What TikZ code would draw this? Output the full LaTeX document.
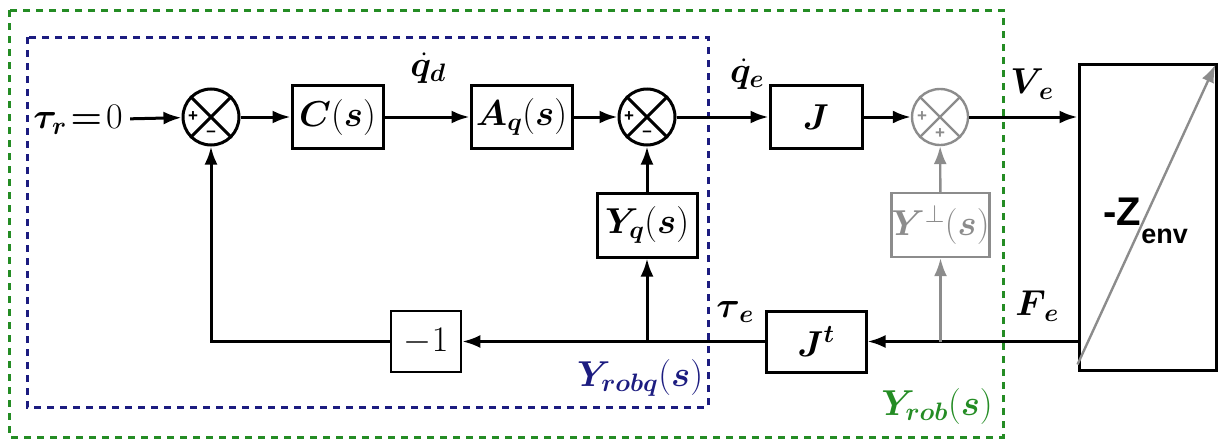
\RequirePackage{fix-cm}
\documentclass[tikz,border=0pt]{standalone}
\usepackage{bm}
\usepackage{amsmath}
\usepackage{fontspec}
\newfontfamily\envfont{Liberation Sans}
\usetikzlibrary{arrows.meta,calc}

\definecolor{robqblue}{RGB}{28,28,128}
\definecolor{robgreen}{RGB}{36,140,36}
\definecolor{perpgray}{RGB}{140,140,140}

\tikzset{
  blockbox/.style={draw, line width=3pt, inner sep=0pt, minimum height=63pt, font=\fontsize{36}{40}\selectfont},
  sumnode/.style={draw, circle, line width=3pt, minimum size=56pt, inner sep=0pt},
  signlabel/.style={inner sep=0pt, font=\envfont\bfseries\fontsize{17}{17}\selectfont},
  siglabel/.style={inner sep=0pt, font=\fontsize{36}{40}\selectfont},
  boundary/.style={line width=3pt, dash pattern=on 7pt off 6pt},
}

\begin{document}
\begin{tikzpicture}[x=1pt, y=-1pt, line width=3pt, >={Latex[length=18pt,width=13pt]}]
    \useasboundingbox (0,0) rectangle (1222,447);

    % boundaries of Y_rob and Y_robq
    \draw[boundary, robgreen] (9,10) rectangle (1003,437);
    \draw[boundary, robqblue] (27,37) rectangle (708,407);

    % forward path
    \node[siglabel] (taur) at (78,120) {$\bm{\tau}_{\bm{r}}\!\bm{=}\!0$};
    \node[sumnode] (sum1) at (211,117) {};
    \node[blockbox, minimum width=91pt] (C) at (337.5,117) {$\bm{C}(\bm{s})$};
    \node[blockbox, minimum width=101pt] (Aq) at (521.5,117) {$\bm{A}_{\bm{q}}(\bm{s})$};
    \node[sumnode] (sum2) at (647,117) {};
    \node[blockbox, minimum width=92pt] (J) at (816,117) {$\bm{J}$};
    \node[sumnode, perpgray, line width=2.4pt] (sum3) at (940,117) {};
    \node[draw, line width=3pt, minimum width=137pt, minimum height=306pt] (env) at (1147.5,217) {};

    % feedback path
    \node[blockbox, minimum width=100pt, minimum height=64pt] (Yq) at (647,225) {$\bm{Y}_{\bm{q}}(\bm{s})$};
    \node[blockbox, perpgray, line width=2.4pt, minimum width=97pt, minimum height=64pt] (Yperp) at (940.5,225) {$\bm{Y}^{\perp}(\bm{s})$};
    \node[blockbox, minimum width=100pt, minimum height=61pt] (Jt) at (816,341.5) {$\bm{J}^{\bm{t}}$};
    \node[blockbox, line width=2.6pt, minimum width=70pt, minimum height=61pt] (m1) at (426,341.5) {$-1$};

    % crosses and signs of the summing junctions
    \foreach \s in {sum1,sum2} {
        \draw (\s.north west) -- (\s.south east) (\s.north east) -- (\s.south west);
        \node[signlabel] at ([xshift=-18pt]\s.center) {+};
        \node[signlabel] at ([yshift=-17pt]\s.center) {–};
    }
    \draw[perpgray, line width=2.4pt] (sum3.north west) -- (sum3.south east) (sum3.north east) -- (sum3.south west);
    \node[signlabel, perpgray] at ([xshift=-18pt]sum3.center) {+};
    \node[signlabel, perpgray] at ([yshift=-17pt]sum3.center) {+};

    % signal labels
    \node[siglabel] (qd) at (428,68) {$\dot{\bm{q}}_{\bm{d}}$};
    \node[siglabel] (qe) at (747,74) {$\dot{\bm{q}}_{\bm{e}}$};
    \node[siglabel] (Ve) at (1032,84) {$\bm{V}_{\,\bm{e}}$};
    \node[siglabel] (taue) at (735,312) {$\bm{\tau}_{\,\bm{e}}$};
    \node[siglabel] (Fe) at (1037,306) {$\bm{F}_{\,\bm{e}}$};
    \node[siglabel, robqblue] (robq) at (640,378) {$\bm{Y}_{\bm{robq}}(\bm{s})$};
    \node[siglabel, robgreen] (rob) at (937,406) {$\bm{Y}_{\bm{rob}}(\bm{s})$};

    % connections
    \draw[->, shorten <=6pt] (taur) -- (sum1);
    \draw[->] (sum1) -- (C);
    \draw[->] (C) -- (Aq);
    \draw[->] (Aq) -- (sum2);
    \draw[->] (sum2) -- (J);
    \draw[->] (J) -- (sum3);
    \draw[->] (sum3.east) -- (sum3.east -| env.west);
    \draw[->] (env.west |- Jt.east) -- (Jt.east);
    \draw[->] (Jt) -- (m1);
    \draw[->] (m1.west) -| (sum1.south);
    \draw[->] (Yq |- Jt) -- (Yq);
    \draw[->] (Yq) -- (sum2);
    \draw[->, perpgray, line width=2.4pt] (Yperp |- Jt) -- (Yperp);
    \draw[->, perpgray, line width=2.4pt] (Yperp) -- (sum3);

    % environment impedance
    \draw[->, perpgray, line width=2.4pt] ($(env.south west)+(0,-7)$) -- ($(env.north east)+(-2,2)$);
    \node[inner sep=0pt, anchor=base west] (zenv) at (1102,225)
        {\envfont\bfseries{\fontsize{40}{40}\selectfont -Z}{\fontsize{27}{27}\selectfont\raisebox{-18pt}{env}}};
\end{tikzpicture}
\end{document}
